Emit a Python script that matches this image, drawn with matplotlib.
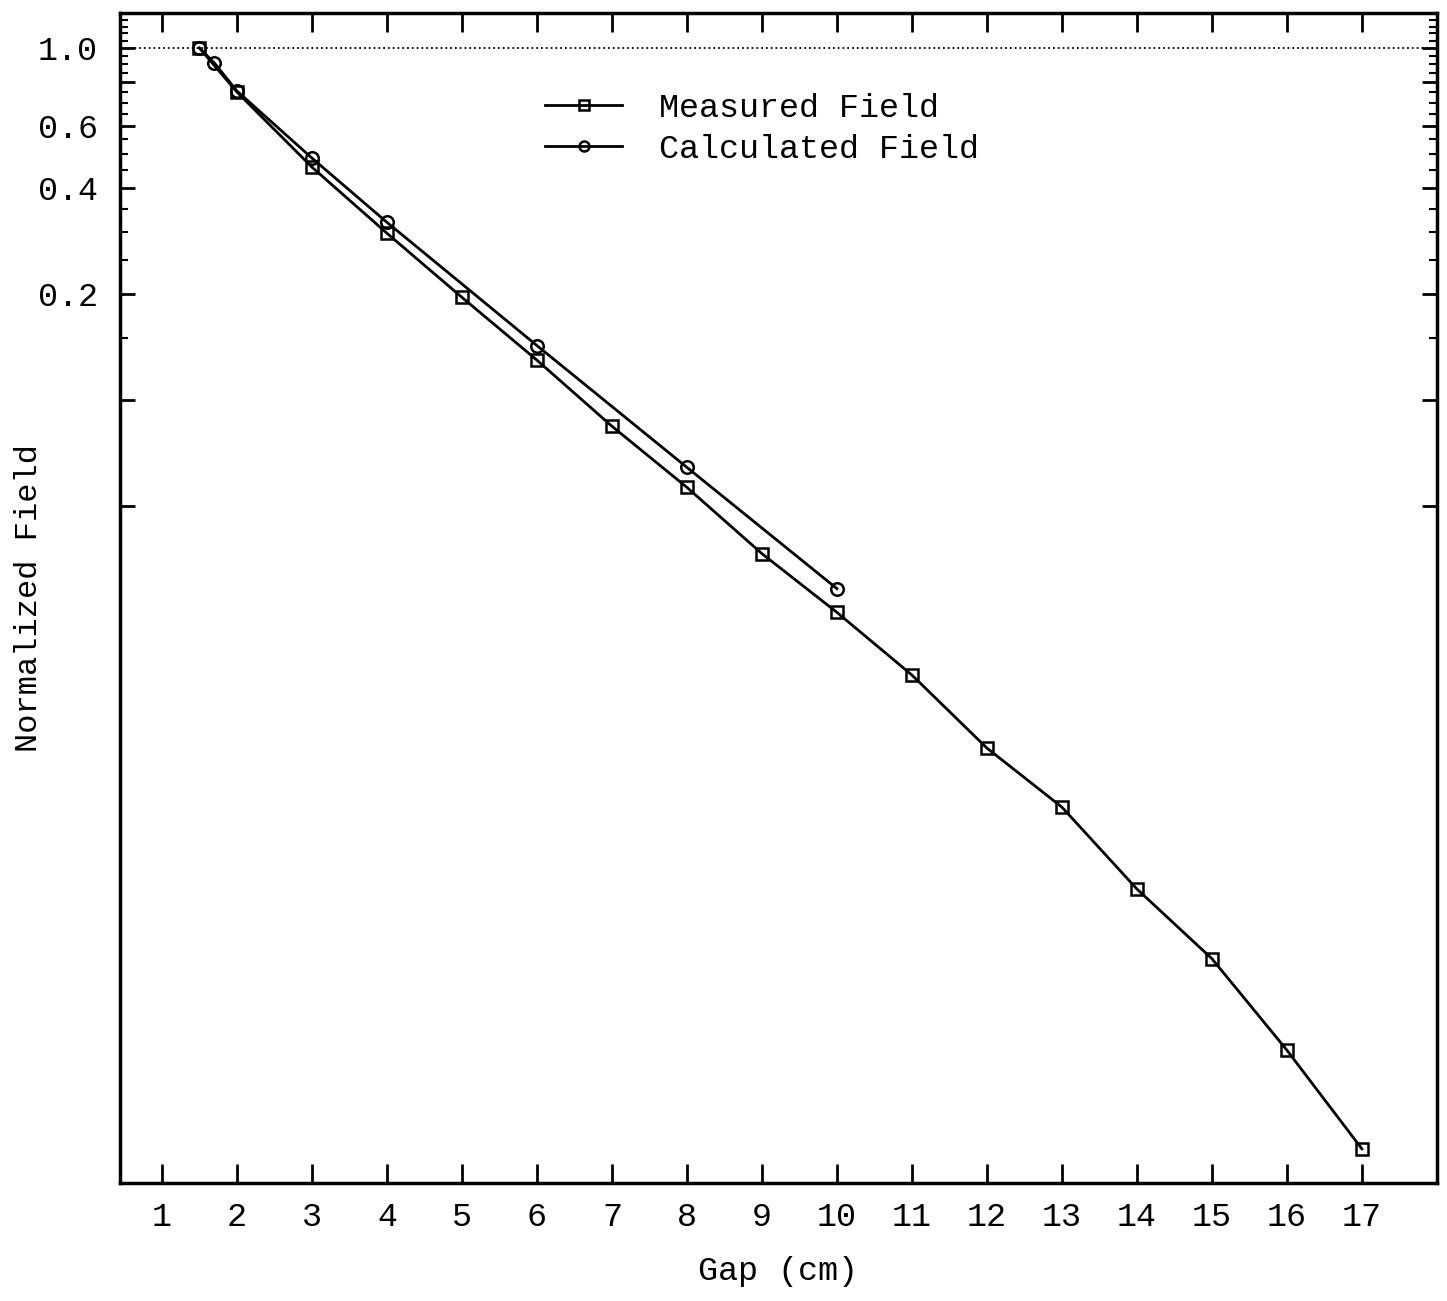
import matplotlib
matplotlib.use('Agg')
import matplotlib.pyplot as plt
from matplotlib.ticker import FixedLocator, NullFormatter

plt.rcParams['font.family'] = ['Liberation Mono', 'DejaVu Sans Mono']

# values
gap_measured = [1.5, 2, 3, 4, 5, 6, 7, 8, 9, 10, 11, 12, 13, 14, 15, 16, 17]
field_measured = [1.0, 0.75, 0.459, 0.298, 0.196, 0.130, 0.0844, 0.0566, 0.0367,
                  0.0250, 0.0166, 0.0103, 0.0070, 0.0041, 0.0026, 0.00143, 0.00075]

gap_calc = [1.5, 1.7, 2, 3, 4, 6, 8, 10]
field_calc = [1.0, 0.906, 0.755, 0.487, 0.320, 0.143, 0.0645, 0.0292]

x_ticks = list(range(1, 18))
y_major = [0.05, 0.1, 0.2, 0.4, 0.6, 0.8, 1.0]
y_labels = ['', '', '0.2', '0.4', '0.6', '', '1.0']
y_minor = [0.15, 0.25, 0.3, 0.35, 0.45, 0.5, 0.55, 0.65, 0.7, 0.75,
           0.85, 0.9, 0.95, 1.05, 1.1, 1.15, 1.2]

fig = plt.figure(figsize=(14.47, 13.01), dpi=100)
ax = fig.add_axes([0.0829, 0.0907, 0.9101, 0.8993])

ax.plot(gap_measured, field_measured, color='black', lw=2, marker='s',
        markersize=9, markerfacecolor='none', markeredgewidth=1.8,
        label='Measured Field')
ax.plot(gap_calc, field_calc, color='black', lw=2, marker='o',
        markersize=9, markerfacecolor='none', markeredgewidth=1.8,
        label='Calculated Field')

# reference line at 1.0
ax.axhline(1.0, color='black', ls=':', lw=1.3)

ax.set_yscale('log')
ax.set_xlim(0.44, 18.0)
ax.set_ylim(0.0006, 1.257)

ax.set_xticks(x_ticks)
ax.set_xticklabels([str(t) for t in x_ticks])
ax.yaxis.set_major_locator(FixedLocator(y_major))
ax.set_yticklabels(y_labels)
ax.yaxis.set_minor_locator(FixedLocator(y_minor))
ax.yaxis.set_minor_formatter(NullFormatter())

ax.tick_params(axis='x', which='major', direction='in', length=14, width=2,
               top=True, labelsize=24, pad=14)
ax.tick_params(axis='y', which='major', direction='in', length=11, width=2,
               right=True, labelsize=24, pad=16)
ax.tick_params(axis='y', which='minor', direction='in', length=6, width=1.5,
               right=True)

for s in ax.spines.values():
    s.set_linewidth(2.5)

ax.set_xlabel('Gap (cm)', fontsize=24, labelpad=16)
ax.set_ylabel('Normalized Field', fontsize=23)
ax.yaxis.set_label_coords(-0.058, 0.5)

ax.legend(loc='upper left', bbox_to_anchor=(0.323, 0.932), frameon=False,
          fontsize=24, numpoints=1, handlelength=2.3, handletextpad=1.1,
          labelspacing=0.3, borderpad=0, borderaxespad=0, markerscale=0.8)

fig.savefig('out.png', dpi=100)
